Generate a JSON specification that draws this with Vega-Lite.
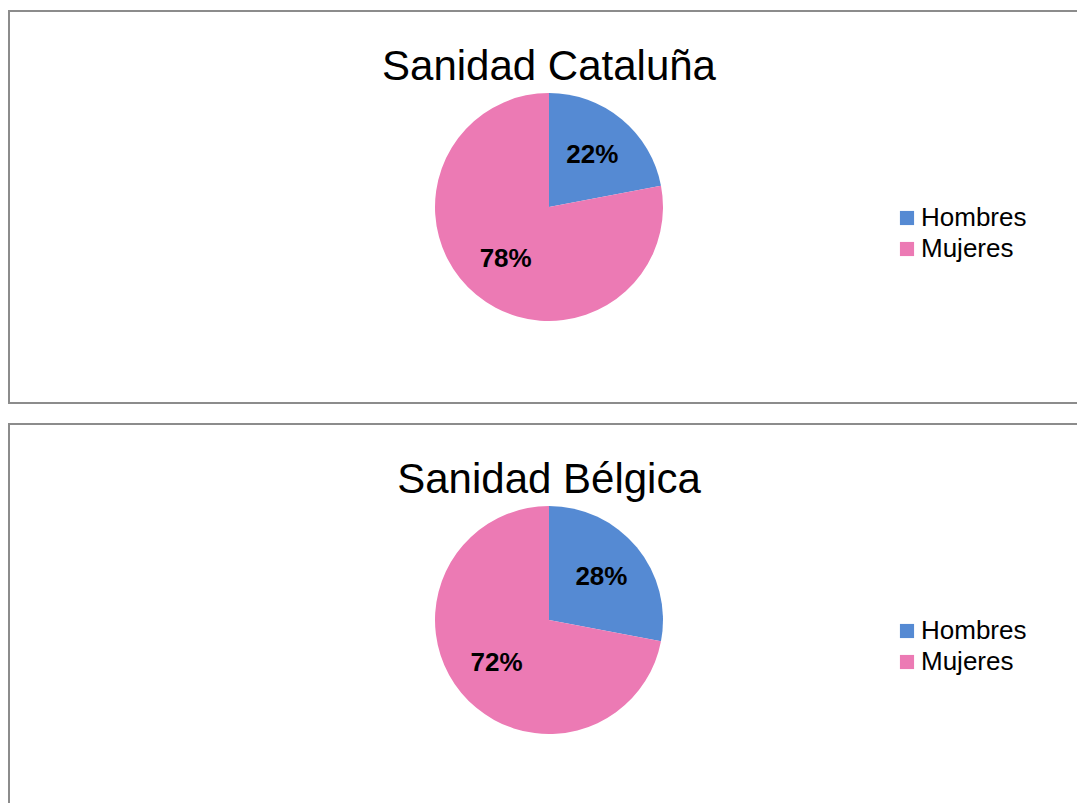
{
  "$schema": "https://vega.github.io/schema/vega-lite/v6.json",
  "padding": {"left": 8, "top": 10, "right": 0, "bottom": 0},
  "spacing": 19,
  "background": "white",
  "config": {
    "font": "Liberation Sans",
    "view": {"stroke": "#8c8c8c", "strokeWidth": 2},
    "title": {"fontSize": 42, "fontWeight": "normal", "color": "black", "font": "Liberation Sans"}
  },
  "datasets": {
    "cat": [{"genero": "Hombres", "pct": 0.22}, {"genero": "Mujeres", "pct": 0.78}],
    "bel": [{"genero": "Hombres", "pct": 0.28}, {"genero": "Mujeres", "pct": 0.72}]
  },
  "vconcat": [
    {
      "width": 1080,
      "height": 392,
      "view": {"stroke": "#8c8c8c", "strokeWidth": 2},
      "title": {"text": "Sanidad Cataluña", "offset": -111, "baseline": "alphabetic", "frame": "group", "anchor": "middle"},
      "data": {"name": "cat"},
      "encoding": {
        "theta": {"field": "pct", "type": "quantitative", "stack": true},
        "color": {
          "field": "genero", "type": "nominal",
          "scale": {"domain": ["Hombres", "Mujeres"], "range": ["#558AD3", "#EC7AB4"]},
          "legend": {"title": null, "orient": "none", "legendX": 885, "legendY": 194, "symbolType": "square", "symbolSize": 200, "labelFontSize": 26, "labelOffset": 1, "labelColor": "black", "rowPadding": 5, "labelFont": "Liberation Sans"}
        }
      },
      "layer": [
        {"mark": {"type": "arc", "outerRadius": 114}},
        {"mark": {"type": "text", "radius": 68, "fontSize": 26, "fontWeight": "bold", "font": "Liberation Sans"},
         "encoding": {"text": {"field": "pct", "type": "quantitative", "format": ".0%"}, "color": {"value": "black"}}}
      ]
    },
    {
      "width": 1080,
      "height": 392,
      "view": {"stroke": "#8c8c8c", "strokeWidth": 2},
      "title": {"text": "Sanidad Bélgica", "offset": -111, "baseline": "alphabetic", "frame": "group", "anchor": "middle"},
      "data": {"name": "bel"},
      "encoding": {
        "theta": {"field": "pct", "type": "quantitative", "stack": true},
        "color": {
          "field": "genero", "type": "nominal",
          "scale": {"domain": ["Hombres", "Mujeres"], "range": ["#558AD3", "#EC7AB4"]},
          "legend": {"title": null, "orient": "none", "legendX": 885, "legendY": 194, "symbolType": "square", "symbolSize": 200, "labelFontSize": 26, "labelOffset": 1, "labelColor": "black", "rowPadding": 5, "labelFont": "Liberation Sans"}
        }
      },
      "layer": [
        {"mark": {"type": "arc", "outerRadius": 114}},
        {"mark": {"type": "text", "radius": 68, "fontSize": 26, "fontWeight": "bold", "font": "Liberation Sans"},
         "encoding": {"text": {"field": "pct", "type": "quantitative", "format": ".0%"}, "color": {"value": "black"}}}
      ]
    }
  ],
  "resolve": {"scale": {"color": "independent"}, "legend": {"color": "independent"}}
}
